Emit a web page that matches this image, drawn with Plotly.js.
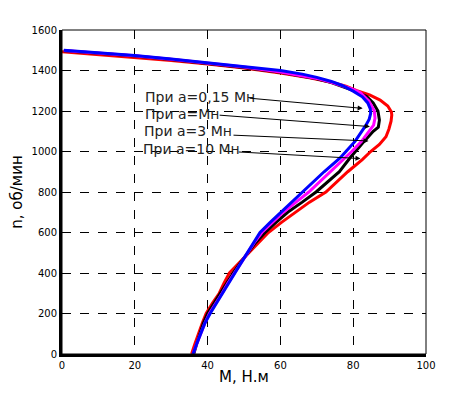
<!DOCTYPE html>
<html><head><meta charset="utf-8">
<script src="https://cdn.plot.ly/plotly-3.0.1.min.js"></script>
<style>body{margin:0;background:#fff}#c{width:471px;height:399px}</style>
</head><body><div id="c"></div>
<script>
// Red curve (M, n)
const redM = [0,10,20,30,40,50,60,68,74,78,81,84.5,87.4,89.5,90.5,90.6,90.4,89.8,89,87.2,84.8,82.5,78.5,75.5,72.5,68,64,60.3,56.7,54,51.2,48.5,46,44.5,43.2,41.3,39.6,38.5,37.4,36.5,35.6];
const redN = [1492,1478,1465,1450,1432,1412,1388,1364,1342,1322,1300,1280,1254,1225,1195,1180,1150,1110,1073,1035,1000,960,900,850,800,750,700,650,600,550,500,450,400,350,300,250,200,150,100,50,0];
// Black curve
const blackM = [0.5,10,20,30,40,50,60,66,70,74,77,80.3,83.7,85.5,86.8,87.2,86.9,85.5,83,80.5,79.1,76.2,73,69.8,66,62,58.8,55.8,53.2,51,49,47,45.2,43.5,41.8,40,38.8,37.8,37,36.2];
const blackN = [1497,1485,1471,1454,1435,1415,1391,1373,1359,1340,1322,1300,1271,1240,1200,1155,1120,1100,1050,1000,968,900,850,800,750,700,650,600,550,500,450,400,350,300,250,200,150,100,50,0];
// Magenta curve
const magM = [0.5,10,20,30,40,50,60,66,70,74,77,79.5,82,84.3,85.8,86,85.6,84.3,82.3,79.6,77.7,73.8,70.8,67.8,64.3,60.8,57.8,54.9,52.8,51,49,47.3,45.6,44,42.3,40.5,39.2,38,37,36];
const magN = [1499,1487,1473,1456,1437,1417,1393,1375,1361,1342,1324,1310,1290,1250,1200,1165,1130,1100,1050,1000,968,900,850,800,750,700,650,600,550,500,450,400,350,300,250,200,150,100,50,0];
// Blue curve
const blueM = [0.5,10,20,30,40,50,60,66,70,74,77,80,82.5,84,84.7,84.8,84.4,83.5,82.3,80.5,78,76.4,72,69,66,63,60.2,57.2,54.4,52.6,51,49.2,47.5,45.8,44,42.3,40.7,39.2,38,37,36];
const blueN = [1500,1488,1474,1457,1438,1418,1400,1382,1366,1346,1326,1298,1270,1240,1210,1188,1160,1130,1100,1050,1000,968,900,850,800,750,700,650,600,550,500,450,400,350,300,250,200,150,100,50,0];

const labels = ["При a=0,15 Мн","При a=Мн","При a=3 Мн","При a=10 Мн"];
const labelM = [22.3,22.3,22.0,21.8];
const labelN = [1269,1185,1101,1012];
const tailM = [51.1,42.9,46.7,48.1];
const tailN = [1264,1180,1081,998];
const tipM = [82.6,84.6,84.2,82.0];
const tipN = [1213,1123,1052,965];

const xTicks = [0,20,40,60,80,100];
const yTicks = [0,200,400,600,800,1000,1200,1400,1600];

const mk = (x,y,c)=>({x:x,y:y,type:'scatter',mode:'lines',line:{color:c,width:3},showlegend:false,hoverinfo:'skip'});
const data = [mk(redM,redN,'#ff0000'),mk(blackM,blackN,'#000000'),mk(magM,magN,'#ff00ff'),mk(blueM,blueN,'#0000ff')];

const ann = [];
for(let i=0;i<labels.length;i++){
  ann.push({x:labelM[i],y:labelN[i],xref:'x',yref:'y',text:labels[i],showarrow:false,xanchor:'left',yanchor:'middle',
    font:{family:'DejaVu Sans',size:14,color:'#222'}});
  ann.push({x:tipM[i],y:tipN[i],xref:'x',yref:'y',ax:tailM[i],ay:tailN[i],axref:'x',ayref:'y',text:'',showarrow:true,
    arrowhead:2,arrowsize:1,arrowwidth:1,arrowcolor:'#000'});
}

const layout = {
  width:471,height:399,
  margin:{l:62,r:45,t:30,b:45},
  paper_bgcolor:'#fff',plot_bgcolor:'#fff',
  font:{family:'DejaVu Sans',size:10,color:'#000'},
  xaxis:{range:[0,100],tickvals:xTicks,ticktext:xTicks.map(String),showgrid:true,gridcolor:'#000',griddash:'dash',gridwidth:1,
    zeroline:false,showline:true,linecolor:'#000',linewidth:3,ticks:'',
    title:{text:'M, Н.м',font:{size:15},standoff:2}},
  yaxis:{range:[0,1600],tickvals:yTicks,ticktext:yTicks.map(String),showgrid:true,gridcolor:'#000',griddash:'dash',gridwidth:1,
    zeroline:false,showline:true,linecolor:'#000',linewidth:3,ticks:'',
    title:{text:'n, об/мин',font:{size:15},standoff:6}},
  shapes:[{type:'rect',xref:'paper',yref:'paper',x0:0,x1:1,y0:0,y1:1,line:{color:'#000',width:1}}],
  annotations:ann
};
Plotly.newPlot('c',data,layout,{staticPlot:true});
</script></body></html>
